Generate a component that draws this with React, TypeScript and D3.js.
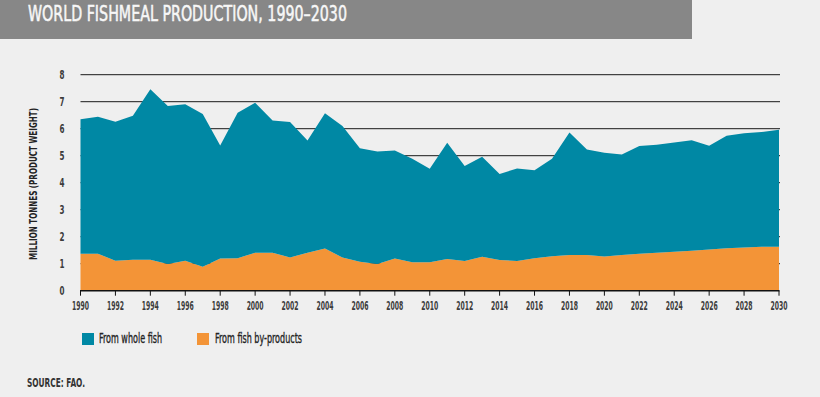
import * as d3 from "d3";

const years = d3.range(1990, 2031);
const byProducts = [
  1.37, 1.37, 1.11, 1.15, 1.15, 0.99, 1.11, 0.89, 1.19, 1.2,
  1.41, 1.41, 1.23, 1.41, 1.56, 1.23, 1.07, 0.99, 1.19, 1.05,
  1.05, 1.17, 1.1, 1.26, 1.14, 1.1, 1.2, 1.28, 1.32, 1.32,
  1.27, 1.32, 1.37, 1.41, 1.44, 1.48, 1.53, 1.57, 1.6, 1.63, 1.63,
];
const wholeFish = [
  4.98, 5.07, 5.15, 5.33, 6.31, 5.85, 5.8, 5.65, 4.19, 5.39,
  5.55, 4.89, 5.02, 4.15, 5.01, 4.87, 4.21, 4.17, 4.0, 3.84,
  3.47, 4.31, 3.52, 3.7, 3.18, 3.43, 3.26, 3.61, 4.54, 3.91,
  3.84, 3.72, 3.99, 4.0, 4.05, 4.09, 3.84, 4.17, 4.23, 4.25, 4.33,
];
const yTicks = [0, 1, 2, 3, 4, 5, 6, 7, 8];
const xTicks = d3.range(1990, 2031, 2);
const legendItems = ["From whole fish", "From fish by-products"];

const W = 820;
const H = 397;
const TEAL = "#0088a4";
const ORANGE = "#f39437";
const FONT = "'DejaVu Sans Condensed', 'Liberation Sans Narrow', sans-serif";

export default function App() {
  const x = d3.scaleLinear().domain([1990, 2030]).range([80.5, 779]);
  const y = d3.scaleLinear().domain([0, 8]).range([290.7, 74.7]);

  const rows = years.map((yr, i) => ({ year: yr, byProducts: byProducts[i], wholeFish: wholeFish[i] }));
  const series = d3.stack<any>().keys(["byProducts", "wholeFish"])(rows);
  const area = d3
    .area<any>()
    .x((d) => x(d.data.year))
    .y0((d) => y(d[0]))
    .y1((d) => y(d[1]));
  const colors = [ORANGE, TEAL];

  return (
    <svg
      width={W}
      height={H}
      style={{ position: "absolute", left: 0, top: 0, background: "#efefef" }}
      fontFamily={FONT}
    >
      {/* title bar */}
      <rect x={0} y={0} width={692} height={39} fill="#878787" />
      <text
        x={28}
        y={20.5}
        fontSize={21}
        fill="#f7f7f7"
        stroke="#f7f7f7"
        strokeWidth={0.5}
        textLength={319}
        lengthAdjust="spacingAndGlyphs"
      >
        WORLD FISHMEAL PRODUCTION, 1990–2030
      </text>

      {/* gridlines */}
      {yTicks.slice(1).map((t) => (
        <line key={t} x1={x(1990)} x2={x(2030) + 1} y1={y(t)} y2={y(t)} stroke="#1a1a1a" strokeWidth={1} />
      ))}

      {/* stacked areas */}
      {series.map((s, i) => (
        <path key={s.key} d={area(s) as string} fill={colors[i]} />
      ))}

      {/* x axis */}
      <line x1={x(1990) - 0.5} x2={x(2030) + 0.5} y1={y(0)} y2={y(0)} stroke="#111" strokeWidth={1.6} />
      {xTicks.map((t) => (
        <g key={t}>
          <line x1={x(t)} x2={x(t)} y1={y(0)} y2={y(0) + 5} stroke="#111" strokeWidth={1} />
          <text
            x={x(t)}
            y={310}
            fontSize={12.5}
            fontWeight="bold"
            textAnchor="middle"
            fill="#3c3c3c"
            textLength={17}
            lengthAdjust="spacingAndGlyphs"
          >
            {t}
          </text>
        </g>
      ))}

      {/* y tick labels */}
      {yTicks.map((t) => (
        <text
          key={t}
          x={62}
          y={y(t) + 4.5}
          fontSize={12.5}
          fontWeight="bold"
          textAnchor="middle"
          fill="#3c3c3c"
          textLength={5}
          lengthAdjust="spacingAndGlyphs"
        >
          {t}
        </text>
      ))}

      {/* y axis title */}
      <text
        transform={`translate(37, 184) rotate(-90)`}
        fontSize={10.5}
        fontWeight="bold"
        textAnchor="middle"
        fill="#222"
        textLength={152}
        lengthAdjust="spacingAndGlyphs"
      >
        MILLION TONNES (PRODUCT WEIGHT)
      </text>

      {/* legend */}
      <rect x={82} y={333} width={12} height={12} fill={TEAL} />
      <text
        x={99}
        y={343}
        fontSize={13.5}
        fill="#222"
        stroke="#222"
        strokeWidth={0.3}
        textLength={63}
        lengthAdjust="spacingAndGlyphs"
      >
        {legendItems[0]}
      </text>
      <rect x={197} y={333} width={12} height={12} fill={ORANGE} />
      <text
        x={215}
        y={343}
        fontSize={13.5}
        fill="#222"
        stroke="#222"
        strokeWidth={0.3}
        textLength={87}
        lengthAdjust="spacingAndGlyphs"
      >
        {legendItems[1]}
      </text>

      {/* source */}
      <text x={27} y={387} fontSize={13} fontWeight="bold" fill="#333" textLength={58} lengthAdjust="spacingAndGlyphs">
        SOURCE: FAO.
      </text>
    </svg>
  );
}
